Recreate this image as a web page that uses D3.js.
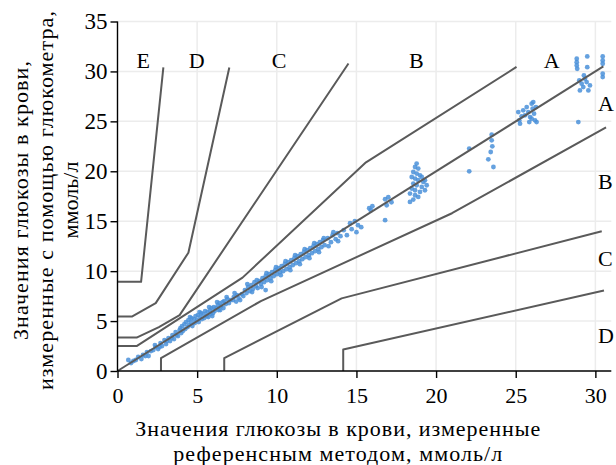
<!DOCTYPE html>
<html><head><meta charset="utf-8">
<script src="https://cdn.jsdelivr.net/npm/d3@7/dist/d3.min.js"></script>
<style>body{margin:0;background:#fff}svg{display:block}</style>
</head><body><svg id="chart" width="616" height="465"></svg>
<script>
const xTicks = [0, 5, 10, 15, 20, 25, 30];
const yTicks = [0, 5, 10, 15, 20, 25, 30, 35];
const xTitle = ["Значения глюкозы в крови, измеренные", "референсным методом, ммоль/л"];
const yTitle = ["Значения глюкозы в крови,", "измеренные с помощью глюкометра,", "ммоль/л"];

// reference value, meter value (mmol/L)
const readings = [
 [0.68,1.1],[0.85,0.8],[1.0,1.0],[1.3,1.4],[1.5,1.2],[1.6,1.6],[1.85,1.9],[1.95,1.5],[2.1,2.0],[2.25,2.1],[2.4,2.4],[2.55,2.2],[2.7,2.8],[2.8,2.5],[2.95,3.1],[3.05,2.7],[3.2,3.3],[3.3,3.0],[3.45,3.6],[3.55,3.2],[3.65,3.9],[3.8,3.5],[3.9,4.1],[4.0,3.8],
 [1.15,1.1],[1.75,1.5],[2.35,2.6],[2.65,2.4],[3.1,3.0],[3.4,3.3],[3.7,3.6],[3.95,4.3],
 [4.05,4.5],[4.1,4.0],[4.2,4.7],[4.25,4.2],[4.3,4.9],[4.4,4.4],[4.45,5.1],[4.5,4.6],[4.6,4.9],[4.65,5.3],[4.7,4.5],[4.8,5.2],[4.85,4.8],[4.9,5.5],[5.0,5.1],[5.05,5.6],[5.1,4.9],[5.2,5.4],[5.25,5.8],[5.3,5.2],[5.4,5.7],[5.45,5.3],[5.5,6.0],[5.6,5.5],[5.65,5.9],[5.7,5.4],[5.8,6.1],[5.85,5.7],[5.9,6.3],[6.0,5.8],[6.05,6.4],[6.1,6.0],[6.2,6.3],[6.3,6.6],[6.35,6.1],[6.4,6.8],[6.5,6.5],[6.6,6.9],[6.65,6.3],[6.7,7.0],[6.8,6.7],[6.9,7.2],[7.0,6.8],[7.1,7.1],[7.25,7.1],[7.45,6.95],[7.3,7.4],[7.5,7.6],[7.6,7.3],[7.7,7.1],[7.8,7.7],[7.9,7.5],
 [4.55,5.4],[5.15,5.9],[5.75,6.4],[6.25,6.9],[6.85,7.4],[7.35,7.8],[5.95,5.5],[6.45,6.1],
 [8.0,8.1],[8.1,7.8],[8.2,8.4],[8.3,8.0],[8.4,8.6],[8.5,8.2],[8.6,8.9],[8.7,8.5],[8.8,8.3],[8.9,9.0],[9.0,8.7],[9.1,9.3],[9.2,8.9],[9.3,8.1],[9.3,9.5],[9.4,9.1],[9.5,9.7],[9.6,9.3],[9.7,9.9],[9.8,9.5],[9.9,10.1],[10.0,9.7],[10.1,10.3],[10.2,9.9],[10.3,10.5],[10.4,10.0],[10.5,10.7],[10.6,10.2],[10.7,10.9],[10.8,10.4],[10.9,11.1],[11.0,10.6],[11.1,11.3],[11.2,10.8],[11.3,11.5],[11.4,11.0],[11.5,11.7],[11.6,11.2],[11.7,11.9],[11.8,11.4],[11.9,12.1],[12.0,11.6],[12.1,12.3],[12.2,11.8],[12.3,12.5],[12.4,12.0],[12.5,12.7],[12.6,12.2],[12.7,12.9],[12.8,12.4],[12.9,13.1],[13.0,12.6],[13.2,13.3],[13.4,12.9],[13.5,13.6],[13.7,13.2],[13.8,13.8],[14.0,13.5],
 [8.15,8.7],[8.45,7.9],[8.75,9.1],[9.05,8.4],[9.35,9.8],[9.65,9.0],[9.95,10.4],[10.25,9.6],[10.55,11.0],[10.85,10.1],[11.15,11.6],[11.45,10.7],[11.75,12.2],[12.05,11.3],[12.35,12.8],[12.65,11.9],[12.95,13.3],[13.25,12.5],[13.55,13.9],[13.85,13.0],
 [14.2,14.1],[14.4,13.6],[14.6,14.8],[14.7,14.2],[14.9,15.0],[15.0,13.9],[15.1,14.6],[15.3,14.4],[15.9,16.1],[16.0,16.5],[15.8,16.3],[16.8,17.2],[17.0,17.4],[16.9,16.6],[16.8,15.1],[17.2,16.9],
 [18.78,20.77],[18.68,20.43],[18.88,20.27],[18.57,19.93],[18.78,19.77],[18.99,19.6],[18.47,19.43],[18.68,19.27],[18.88,19.1],[19.2,18.93],[18.57,18.77],[18.78,18.6],[19.1,18.43],[19.41,18.6],[18.47,18.27],[18.68,18.1],[18.99,17.93],[19.3,18.1],[18.36,17.77],[18.68,17.6],[18.88,17.43],[18.57,17.17],[18.36,16.93],[19.3,19.1],[19.1,19.43],
 [22.08,22.27],[22.08,20.0],[23.49,23.67],[23.49,23.1],[23.53,22.5],[23.43,21.93],[23.28,21.2],[23.6,20.43],
 [25.16,25.93],[25.22,25.1],[25.27,24.77],[25.47,26.1],[25.58,25.6],[25.69,26.43],[25.79,25.93],[25.9,25.43],[26.0,26.77],[26.06,26.27],[26.1,26.93],[26.15,25.77],[26.21,25.1],[26.27,26.43],[26.31,24.93],[25.85,24.93],[25.37,25.5],[26.0,25.27],
 [28.83,31.27],[28.83,30.93],[28.83,30.6],[28.86,30.27],[29.49,31.5],[29.49,30.43],[30.46,31.5],[30.46,31.1],[30.46,30.77],[30.46,29.77],[30.46,29.43],[28.99,29.1],[29.14,28.77],[29.35,29.27],[29.45,28.93],[29.24,28.43],[29.56,28.1],[29.03,28.1],[28.93,24.93],[29.28,29.6],[29.66,28.6]
];

// zone boundary lines (mmol/L)
const lineDE = [[0,8.93],[1.48,8.93],[2.88,30.4]];
const lineCDupper = [[0,5.45],[0.9,5.45],[2.4,6.8],[4.45,11.85],[7.02,30.4]];
const lineBCupper = [[0,3.35],[1.2,3.35],[2.6,4.4],[3.9,5.6],[14.5,30.8]];
const lineABupper = [[0,2.5],[1.2,2.5],[7.85,9.35],[15.6,20.9],[25.05,30.45]];
const lineIdentity = [[0,0],[30.5,30.5]];
const lineABlower = [[2.73,0],[2.73,1.3],[9.0,7.0],[21.0,15.8],[30.67,24.4]];
const lineBClower = [[6.7,0],[6.7,1.3],[14.07,7.27],[30.4,14.0]];
const lineCDlower = [[14.17,0],[14.17,2.15],[30.54,8.07]];

const topZones = ["E","D","C","B","A"];
const topZoneX = [1.62, 4.97, 10.14, 18.76, 27.26];
const topZoneY = 30.3;
const rightZones = ["A","B","C","D"];
const rightZoneY = [26.0, 18.2, 10.5, 2.77];
const rightZoneX = 30.16;

const W = 616, H = 465;
const m = {left:117.5, right:4.7, top:21.5, bottom:94};
const svg = d3.select("#chart");
const FONT = "'Liberation Serif', 'Times New Roman', serif";

const x = d3.scaleLinear().domain([0,31]).range([m.left, W - m.right]);
const y = d3.scaleLinear().domain([0,35]).range([H - m.bottom, m.top]);

// grid
const g = svg.append("g");
g.selectAll(".vg").data(xTicks.filter(d=>d>0)).join("line")
  .attr("x1", d=>x(d)).attr("x2", d=>x(d)).attr("y1", y(0)).attr("y2", y(35))
  .attr("stroke", "#ececec").attr("stroke-width", 1.5);
g.selectAll(".hg").data(yTicks.filter(d=>d>0)).join("line")
  .attr("y1", d=>y(d)).attr("y2", d=>y(d)).attr("x1", x(0)).attr("x2", x(31))
  .attr("stroke", "#ececec").attr("stroke-width", 1.5);

// points
svg.append("g").selectAll("circle").data(readings).join("circle")
  .attr("cx", d=>x(d[0])).attr("cy", d=>y(d[1])).attr("r", 2.4)
  .attr("fill", "#4a90d9").attr("fill-opacity", 0.85);

// zone lines
const lineGen = d3.line().x(d=>x(d[0])).y(d=>y(d[1]));
[lineDE, lineCDupper, lineBCupper, lineABupper, lineIdentity, lineABlower, lineBClower, lineCDlower].forEach(l => {
  svg.append("path").attr("d", lineGen(l)).attr("fill","none")
    .attr("stroke","#5a5a5a").attr("stroke-width",2).attr("stroke-linejoin","round");
});

// axes
const xAxis = svg.append("g").attr("transform", `translate(0,${y(0)})`)
  .call(d3.axisBottom(x).tickValues(xTicks).tickSize(7).tickPadding(9).tickSizeOuter(0));
const yAxis = svg.append("g").attr("transform", `translate(${x(0)},0)`)
  .call(d3.axisLeft(y).tickValues(yTicks).tickSize(7).tickPadding(3).tickSizeOuter(0));
[xAxis, yAxis].forEach(a => {
  a.select(".domain").attr("stroke","#000").attr("stroke-width",1.4);
  a.selectAll(".tick line").attr("stroke","#000").attr("stroke-width",1.4);
  a.selectAll("text").attr("font-family", FONT).attr("fill","#000");
});
xAxis.selectAll("text").attr("font-size", 22);
yAxis.selectAll("text").attr("font-size", 23);
xAxis.select(".domain").attr("d", `M${x(0)},0H${x(31)}`);
yAxis.select(".domain").attr("d", `M0,${y(0)}V${y(35)}`);

// zone labels
svg.append("g").selectAll("text").data(topZones).join("text")
  .attr("x",(d,i)=>x(topZoneX[i])).attr("y", y(topZoneY)).attr("text-anchor","middle")
  .attr("font-family",FONT).attr("font-size",22).text(d=>d);
svg.append("g").selectAll("text").data(rightZones).join("text")
  .attr("x", x(rightZoneX)).attr("y",(d,i)=>y(rightZoneY[i]))
  .attr("font-family",FONT).attr("font-size",22).text(d=>d);

// titles: fixed font size, letter-spacing tuned to the reference widths
function fit(sel, target){
  const txt = sel.text();
  const len = sel.node().getComputedTextLength();
  sel.attr("letter-spacing", ((target - len) / txt.length).toFixed(3));
}
const TFS = 22;
const xt1 = svg.append("text").attr("x",338.3).attr("y",436).attr("text-anchor","middle")
  .attr("font-family",FONT).attr("font-size",TFS).text(xTitle[0]);
const xt2 = svg.append("text").attr("x",338.3).attr("y",460.5).attr("text-anchor","middle")
  .attr("font-family",FONT).attr("font-size",TFS).text(xTitle[1]);
fit(xt1, 406);
fit(xt2, 330);
const ybase = [28, 53, 78];
const yLens = [280, 380, 77];
yTitle.forEach((t,i)=>{
  const s = svg.append("text")
    .attr("transform",`translate(${ybase[i]},200) rotate(-90)`).attr("text-anchor","middle")
    .attr("font-family",FONT).attr("font-size",TFS).text(t);
  fit(s, yLens[i]);
});
</script></body></html>
